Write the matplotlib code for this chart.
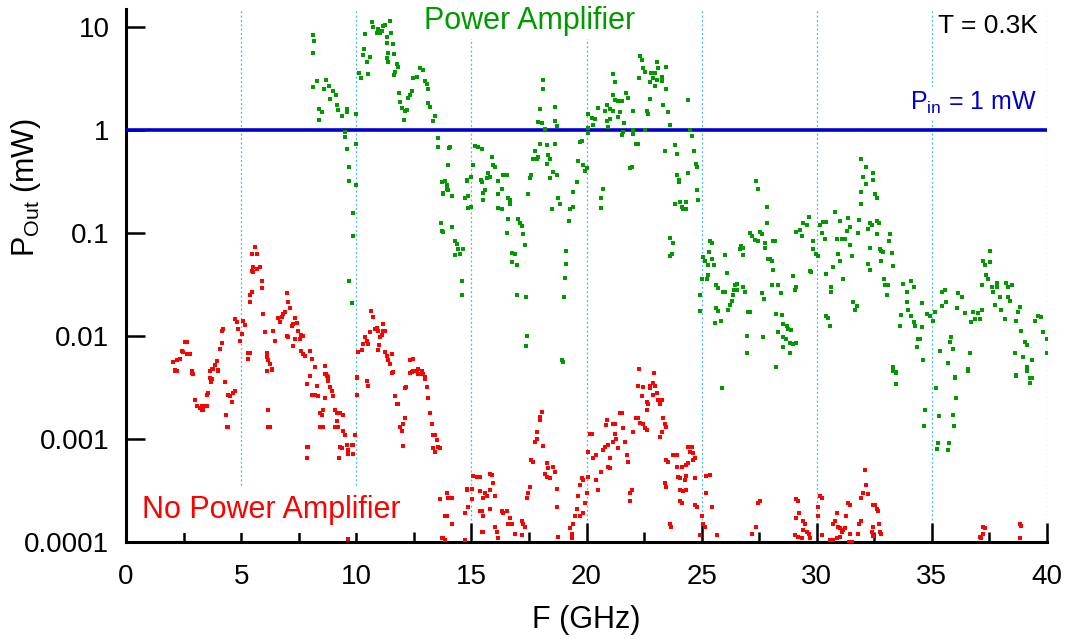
import matplotlib
matplotlib.use('Agg')
import matplotlib.pyplot as plt
from matplotlib.ticker import FixedLocator, MultipleLocator, NullLocator

plt.rcParams['font.family'] = ['Liberation Sans', 'DejaVu Sans']
plt.rcParams['mathtext.fontset'] = 'custom'
plt.rcParams['mathtext.rm'] = 'Liberation Sans'
plt.rcParams['mathtext.it'] = 'Liberation Sans:italic'

# output power with the amplifier (GHz, mW)
green_f = [
    8.12, 8.16, 8.12, 8.3, 8.1, 8.7, 8.6, 8.8, 9.0, 8.85, 9.1, 8.4, 8.5, 8.4,
    9.16, 9.2, 9.4, 9.6, 9.6, 10.0, 9.5, 9.5, 9.6, 10.0, 9.7, 9.7, 10.0,
    9.86, 9.84, 9.7, 9.8,
    10.13, 10.19, 10.28, 10.35, 10.39, 10.45, 10.6, 10.5, 10.7, 10.74, 10.88, 11.03,
    11.17, 11.25, 11.45, 11.32, 11.5, 11.32, 11.6, 11.39, 11.65, 11.32, 11.36, 11.75,
    11.82, 11.68, 11.63, 11.85, 11.9, 12.0, 12.1, 12.2, 12.07, 12.33, 12.43, 12.26,
    12.48, 12.62, 12.77, 12.91, 12.98, 13.08, 13.13, 13.13, 13.2, 13.4, 13.35,
    10.95, 11.1,
    13.56, 13.56, 14.04, 14.0, 13.71, 13.85, 13.92, 13.75, 13.7, 13.73,
    13.92, 14.0, 13.78, 14.14, 14.79, 14.72, 14.84, 14.86, 15.0, 14.14, 13.75, 14.28,
    14.36, 14.43, 14.28, 14.5, 14.65, 14.58, 14.58, 14.07, 14.79,
    15.08, 15.0, 15.15, 15.3, 15.44, 15.44, 15.59, 15.52, 15.88, 15.95, 16.02, 15.73,
    15.8, 15.66, 16.38, 16.53, 16.17, 16.31, 16.17, 16.6, 17.47, 17.54, 17.61, 17.76,
    17.83, 17.69, 17.9, 17.98, 18.27, 18.63, 18.33, 18.41, 18.27, 18.55, 18.7, 18.41,
    18.77, 17.98, 17.9, 18.05, 18.12, 18.12, 18.63, 18.63, 18.7, 18.2, 19.42, 19.57,
    19.64, 19.71, 19.79, 19.86, 19.93, 20.0,
    15.4, 15.49, 16.67, 16.67, 16.17, 16.31, 16.6, 17.04, 17.11, 17.18, 16.55, 17.25,
    17.33, 16.75, 16.89, 16.75, 16.96, 16.96, 17.35, 17.4, 17.35,
    18.48, 18.85, 19.42, 19.28, 19.42, 18.77, 19.24, 19.13, 19.13, 19.06, 19.03,
    18.95, 18.99,
    20.07, 20.07, 20.07, 20.22, 20.36, 20.29, 20.51, 20.8, 20.87, 21.02, 21.16, 20.87,
    20.94, 21.02, 21.16, 21.23, 21.38, 21.52, 21.71, 21.81, 21.16, 21.23, 21.38, 21.45,
    21.64, 21.56, 21.59, 22.03, 22.03, 22.14, 22.22, 22.03, 21.88, 21.98, 22.53, 22.61,
    22.68, 22.75, 22.32, 22.39, 22.46, 22.53, 22.29, 22.82, 22.97, 22.9, 23.04, 22.75,
    22.97, 23.11, 23.26, 23.3, 23.47, 23.08, 23.47, 23.33, 23.55, 23.62, 23.84, 23.94,
    23.4, 23.94, 24.02, 24.41, 24.49, 24.56, 24.41, 24.66, 24.75, 24.78, 24.8, 24.85,
    20.72, 20.65, 20.65, 24.02, 23.84, 24.06, 24.13, 24.34, 24.2, 24.32, 23.62, 23.76,
    23.62, 23.72,
    25.36, 25.43, 25.33, 25.07, 25.14, 25.26, 25.43, 25.53, 25.03, 25.28, 25.24, 24.92,
    24.95, 25.64, 25.72, 26.0, 26.09, 26.0, 25.93, 25.62, 25.72, 25.57, 25.83, 25.87,
    26.15, 26.23, 26.3, 26.37, 26.44, 26.52, 26.4, 26.54, 26.73, 26.8, 26.8, 26.66,
    27.1, 27.17, 27.31, 27.46, 27.53, 27.6, 27.74, 27.74, 27.82, 27.82, 27.89, 26.8,
    26.89, 27.02, 27.1, 26.95, 26.95, 27.65, 27.7, 27.63, 27.38, 27.46,
    28.1, 28.18, 27.96, 28.04, 28.1, 28.04, 28.32, 28.43, 28.98, 29.05, 29.12,
    28.25, 28.47, 28.54, 28.69, 28.76, 28.9, 28.32, 28.54, 28.66, 28.83, 28.98, 29.12,
    28.54, 28.83, 28.25,
    29.12, 29.27, 29.34, 29.41, 29.56, 29.67, 29.7, 29.77, 29.84, 29.84, 29.96,
    30.06, 30.13, 30.21, 30.28, 30.42, 30.35, 30.42, 30.64, 30.64, 30.71, 30.79, 30.86,
    31.0, 30.93, 31.0, 31.08, 31.15, 31.22, 31.32, 31.36, 31.44, 31.44, 31.55, 31.58,
    31.73, 31.65, 31.83, 31.8, 31.94, 31.94, 32.16, 32.52, 32.6, 32.31, 32.23, 32.38,
    32.6, 32.62, 32.71, 32.74, 32.81, 32.88, 32.77, 32.31, 32.23, 32.31, 32.91, 32.96,
    33.1, 33.03, 33.17, 33.13, 33.25, 33.29, 30.42, 30.57, 30.5, 33.32, 33.46,
    31.94, 32.13, 32.02, 32.16, 32.45, 32.45, 31.94,
    33.75, 33.9, 34.11, 34.21, 33.97, 34.11, 33.68, 33.6, 34.21, 34.26, 34.55, 34.55,
    34.4, 34.47, 34.36, 34.62, 33.9,
    34.77, 34.91, 35.05, 35.13, 35.42, 35.56, 35.46, 35.6, 35.85, 35.78, 35.92, 35.35,
    35.71, 36.14, 36.29, 36.11, 36.43, 36.79, 36.72, 36.86, 37.08, 37.16, 37.01, 36.65,
    36.57, 36.0, 37.16, 37.37, 37.44, 37.23, 37.3, 37.52, 37.52, 37.59, 37.66, 37.81,
    37.83, 37.95, 37.73, 38.02, 38.24, 38.31, 38.46, 38.31, 38.38, 38.17, 38.82, 38.74,
    38.67, 38.89, 39.04, 39.11, 38.6, 38.96, 39.11, 39.33, 39.47, 39.62, 39.76, 39.83,
    39.98, 39.98, 38.67, 39.25,
    33.32, 33.46, 33.46, 34.69, 34.66, 35.2, 35.31, 35.27, 35.23, 35.75, 35.71, 36.0,
    36.03, 35.92, 35.96, 36.57, 38.67, 39.11, 39.28, 39.33,
]
green_p = [
    8.3, 7.4, 5.6, 3.0, 2.6, 3.1, 2.5, 2.7, 2.4, 2.0, 2.2, 1.6, 1.5, 1.25,
    1.75, 1.56, 1.37, 1.6, 1.5, 1.43, 0.95, 0.86, 0.65, 0.74, 0.44, 0.32, 0.29,
    0.156, 0.093, 0.034, 0.021,
    3.6, 3.2, 5.4, 6.2, 8.6, 4.6, 5.1, 3.5, 11.2, 10.0, 8.8, 8.8,
    10.2, 10.4, 11.6, 8.0, 8.8, 7.0, 6.9, 5.6, 5.5, 5.0, 4.6, 4.4,
    4.1, 3.7, 3.4, 2.3, 1.87, 1.65, 1.53, 1.56, 1.24, 2.2, 2.4, 2.06,
    3.2, 3.3, 4.0, 3.8, 3.0, 2.8, 2.5, 1.84, 1.67, 1.37, 1.22,
    9.5, 9.2,
    0.83, 0.69, 0.67, 0.46, 0.31, 0.32, 0.27, 0.245, 0.124, 0.105,
    0.29, 0.26, 0.24, 0.23, 0.32, 0.22, 0.23, 0.175, 0.18, 0.115, 0.103, 0.084,
    0.078, 0.07, 0.061, 0.062, 0.07, 0.034, 0.025, 0.69, 0.33,
    0.46, 0.35, 0.70, 0.69, 0.65, 0.31, 0.26, 0.245, 0.55, 0.46, 0.44, 0.385,
    0.35, 0.34, 0.37, 0.37, 0.32, 0.27, 0.24, 0.22, 0.24, 0.34, 0.37, 0.63,
    0.53, 0.52, 0.55, 0.74, 0.71, 0.74, 0.57, 0.53, 0.47, 0.39, 0.37, 0.34,
    0.22, 1.59, 1.2, 1.18, 3.06, 2.5, 1.67, 1.22, 1.1, 1.02, 0.25, 0.31,
    0.5, 0.77, 0.78, 0.46, 0.40, 0.43,
    0.33, 0.21, 0.21, 0.19, 0.175, 0.17, 0.136, 0.136, 0.124, 0.118, 0.1, 0.098,
    0.076, 0.064, 0.062, 0.052, 0.049, 0.025, 0.024, 0.01, 0.008,
    0.17, 0.19, 0.18, 0.17, 0.25, 0.22, 0.13, 0.067, 0.05, 0.037, 0.024,
    0.0059, 0.0056,
    0.93, 1.05, 1.42, 1.32, 1.27, 1.13, 1.65, 1.53, 1.74, 1.59, 1.53, 1.22,
    1.07, 1.27, 2.17, 1.95, 1.91, 1.91, 2.27, 2.03, 3.47, 2.94, 1.35, 1.5,
    1.18, 0.89, 0.95, 0.92, 1.0, 0.74, 0.73, 1.53, 0.43, 0.44, 1.0, 1.53,
    1.42, 2.0, 5.2, 4.8, 4.0, 3.7, 3.2, 3.6, 3.6, 3.2, 3.1, 2.9,
    2.7, 4.0, 3.3, 3.0, 4.1, 4.6, 2.5, 1.77, 1.5, 1.12, 0.71, 0.58,
    0.62, 0.37, 0.31, 1.98, 1.0, 0.88, 0.38, 0.62, 0.47, 0.44, 0.26, 0.21,
    0.27, 0.22, 0.175, 0.33, 0.19, 0.2, 0.18, 0.2, 0.17, 0.17, 0.089, 0.081,
    0.06, 0.062,
    0.084, 0.081, 0.066, 0.058, 0.054, 0.049, 0.056, 0.049, 0.036, 0.039, 0.036, 0.025,
    0.0176, 0.031, 0.029, 0.061, 0.041, 0.027, 0.027, 0.0186, 0.0176, 0.0134, 0.0139, 0.0031,
    0.018, 0.02, 0.022, 0.025, 0.031, 0.032, 0.028, 0.028, 0.075, 0.071, 0.061, 0.07,
    0.1, 0.093, 0.086, 0.084, 0.103, 0.099, 0.081, 0.072, 0.178, 0.124, 0.056, 0.030,
    0.027, 0.017, 0.0172, 0.01, 0.0069, 0.0097, 0.023, 0.026, 0.32, 0.27,
    0.084, 0.083, 0.056, 0.054, 0.044, 0.031, 0.031, 0.026, 0.038, 0.028, 0.03,
    0.0163, 0.016, 0.013, 0.0124, 0.0117, 0.0115, 0.0109, 0.0099, 0.0094, 0.0085, 0.0083, 0.0085,
    0.0079, 0.0069, 0.005,
    0.103, 0.107, 0.094, 0.124, 0.12, 0.144, 0.043, 0.042, 0.084, 0.07, 0.062,
    0.06, 0.12, 0.1, 0.129, 0.129, 0.087, 0.04, 0.03, 0.027, 0.047, 0.16, 0.087,
    0.132, 0.062, 0.054, 0.087, 0.036, 0.087, 0.105, 0.139, 0.076, 0.115, 0.06, 0.0215,
    0.0197, 0.018, 0.134, 0.1, 0.25, 0.19, 0.3, 0.24, 0.22, 0.124, 0.11, 0.12,
    0.098, 0.13, 0.125, 0.07, 0.067, 0.065, 0.054, 0.072, 0.05, 0.044, 0.036, 0.031,
    0.031, 0.025, 0.098, 0.084, 0.064, 0.048, 0.0158, 0.0126, 0.015, 0.005, 0.0045,
    0.52, 0.44, 0.35, 0.3, 0.38, 0.33, 0.25,
    0.032, 0.027, 0.034, 0.03, 0.0179, 0.0158, 0.016, 0.0126, 0.0136, 0.0126, 0.021, 0.0122,
    0.0094, 0.0094, 0.0078, 0.0058, 0.0215,
    0.0163, 0.0158, 0.014, 0.0172, 0.027, 0.028, 0.0197, 0.0212, 0.0099, 0.0087, 0.0075, 0.0072,
    0.0055, 0.026, 0.0237, 0.0186, 0.0166, 0.017, 0.0138, 0.0146, 0.0146, 0.0179, 0.0167, 0.0069,
    0.0048, 0.004, 0.031, 0.039, 0.036, 0.054, 0.049, 0.052, 0.067, 0.03, 0.027, 0.033,
    0.03, 0.0237, 0.02, 0.018, 0.033, 0.03, 0.031, 0.0237, 0.022, 0.0146, 0.0192, 0.017,
    0.014, 0.0111, 0.0087, 0.0081, 0.0069, 0.0062, 0.005, 0.0058, 0.014, 0.0155, 0.0152, 0.0109,
    0.0094, 0.0069, 0.0042, 0.0039,
    0.0046, 0.0044, 0.0034, 0.0019, 0.00135, 0.0031, 0.00166, 0.00091, 0.0008, 0.00092, 0.00079, 0.0039,
    0.0025, 0.0017, 0.00133, 0.0046, 0.0041, 0.0046, 0.0035, 0.0039,
]

# output power without the amplifier (GHz, mW)
red_f = [
    2.05, 2.2, 2.34, 2.13, 2.23, 2.42, 2.49, 2.64, 2.78, 2.56, 2.64, 2.85, 2.92,
    3.65, 3.72, 3.86, 3.93, 4.0, 4.08, 4.16, 4.16, 4.23, 4.73, 4.81, 4.88, 4.95,
    5.02, 5.09, 5.17, 5.31, 5.28, 5.38,
    5.46, 5.6, 5.67, 5.53, 5.67, 5.81, 5.46, 5.53, 5.89, 5.89, 5.46, 5.38, 5.38,
    5.96, 6.04, 6.11, 6.11, 6.18, 6.25, 6.33,
    6.4, 6.47, 6.62, 6.69, 6.76, 6.83, 6.9, 6.98, 7.05, 7.12, 6.98, 7.05, 7.2, 7.26,
    7.41, 7.34, 7.48, 7.62, 7.56, 7.7, 7.26, 7.34, 7.62, 7.7, 7.77, 7.99, 8.06, 8.2,
    8.64, 8.68, 8.78,
    10.02, 10.09, 10.23, 10.3, 10.38, 10.52, 10.45, 10.59, 10.66, 10.74, 10.81, 10.88,
    10.95, 11.17, 11.1, 11.03, 11.17, 11.25, 11.0, 10.95, 11.25, 11.32, 11.39, 11.46,
    11.54, 11.58, 12.33, 12.48, 12.4, 12.55, 12.62, 12.77, 12.91, 12.7, 12.98,
    2.13, 2.85, 2.92, 3.65, 3.72, 3.69, 3.79, 4.0, 4.3, 3.57, 3.5, 3.0, 3.07, 3.21,
    3.28, 3.36, 3.43, 3.5, 3.28, 4.44, 4.51, 4.66, 4.73, 4.59, 4.34, 4.37, 4.44,
    6.11, 6.33, 6.15, 6.18, 6.25,
    7.85, 7.99, 8.06, 8.2, 8.28, 8.35, 8.42, 8.5, 8.57, 8.64, 8.71, 8.79, 8.86, 8.93,
    9.0, 8.64, 8.42, 8.57, 9.07, 9.15, 9.29, 9.44, 9.15, 9.07, 9.22, 9.41, 9.51, 9.29,
    9.36, 9.26, 9.58, 9.65, 9.8, 9.87, 9.94, 10.02, 10.02, 9.87, 9.65, 7.85, 7.92, 7.85,
    10.45, 10.52, 11.54, 11.68, 11.75, 11.82, 11.9, 11.97, 12.04, 12.11, 12.01, 12.11,
    12.18, 12.33, 12.48, 12.7, 12.84, 12.98, 13.05, 13.13, 13.2, 13.27, 13.35, 13.42,
    13.49, 13.56, 13.42, 13.35, 13.63, 13.85, 13.71, 13.85, 14.0, 9.65,
    13.63, 13.92, 14.0, 14.14, 13.85, 13.92, 14.14, 13.71, 13.78, 14.72, 14.79, 14.79,
    15.01, 15.01, 14.86, 14.72, 15.08, 15.23, 15.37, 15.37, 15.52, 15.66, 15.59, 15.8,
    15.88, 15.95, 16.02, 15.8, 15.37, 15.44, 15.52, 15.8, 15.44, 15.52, 16.02, 16.1,
    16.17, 16.31, 16.38, 16.53, 16.67, 16.6, 16.75, 16.89, 17.18, 17.25, 17.32, 17.18,
    17.4, 17.47, 17.54, 17.61, 17.69, 17.76, 17.83, 17.83, 17.98, 18.05, 17.98, 18.12,
    18.27, 18.33, 18.19, 18.27, 18.41, 18.55, 18.63, 18.7, 18.7, 18.77,
    19.28, 19.35, 19.42, 19.35, 19.5, 19.57, 19.64, 19.71, 19.79, 19.86, 19.71, 19.86,
    19.93, 20.0, 20.07, 20.07, 20.15, 20.22, 20.29, 20.43, 20.43, 20.51, 20.65, 20.72,
    20.8, 20.87, 20.84, 20.94, 21.01, 20.94, 21.01, 21.16, 21.23, 21.16, 21.23, 21.3,
    21.38, 21.45, 21.52, 21.59, 21.66, 21.74, 21.81, 21.88, 21.96, 21.88,
    22.03, 22.17, 22.24, 22.32, 22.46, 22.53, 22.61, 22.24, 22.39, 22.46, 22.61, 22.68,
    22.75, 22.9, 22.97, 22.75, 22.9, 23.04, 23.11, 23.26, 23.19, 22.29, 22.94, 22.61,
    23.33, 23.4, 23.47, 23.26, 23.19,
    23.47, 23.55, 23.76, 23.91, 24.13, 24.34, 24.41, 24.41, 24.56, 24.49, 24.63, 24.7,
    24.63, 23.91, 23.98, 24.06, 24.34, 24.27, 23.4, 23.47, 24.06, 24.2, 24.34, 24.7,
    24.06, 24.13, 24.7, 24.78, 23.62, 23.69,
    25.0, 25.06, 25.14, 24.92, 25.21, 25.36, 25.21, 25.43, 25.65, 27.17, 27.38, 27.46,
    27.53,
    29.12, 29.19, 29.23, 29.12, 29.41, 29.48, 29.41, 29.56, 29.67, 29.7, 29.05, 29.19,
    29.34, 30.06, 30.13, 30.21, 30.06, 30.21, 30.57, 30.71, 30.79, 30.86, 30.93, 31.0,
    31.08, 31.0, 31.15, 31.22, 31.29, 31.36, 31.44, 31.44, 31.51, 31.84, 31.94, 31.94,
    32.01, 32.09, 32.16, 32.23, 32.45, 32.52, 32.6, 32.67, 32.45, 32.38, 32.45, 32.69,
    32.74, 32.81, 31.8, 31.41, 30.86, 30.71,
    37.08, 37.15, 37.23, 37.3, 37.23, 38.82, 38.89, 38.82,
]
red_p = [
    0.0056, 0.0058, 0.006, 0.0047, 0.0046, 0.0072, 0.007, 0.0067, 0.0067, 0.0087, 0.0087, 0.0046, 0.0043,
    0.0039, 0.0048, 0.0052, 0.0057, 0.0047, 0.0075, 0.0085, 0.0113, 0.0117, 0.0146, 0.0136, 0.0117, 0.009,
    0.0104, 0.014, 0.0128, 0.0068, 0.006, 0.0069,
    0.062, 0.073, 0.062, 0.047, 0.045, 0.047, 0.043, 0.042, 0.034, 0.029, 0.027, 0.025, 0.0215,
    0.0163, 0.0109, 0.0069, 0.0062, 0.0058, 0.0053, 0.0047,
    0.0113, 0.009, 0.0149, 0.0136, 0.0152, 0.0163, 0.017, 0.026, 0.0215, 0.0186, 0.0101, 0.0097, 0.0126, 0.013,
    0.0133, 0.0149, 0.0113, 0.0103, 0.0094, 0.0101, 0.008, 0.0094, 0.0072, 0.0067, 0.0064, 0.0072, 0.006, 0.005,
    0.0051, 0.0043, 0.004,
    0.004, 0.007, 0.0073, 0.0083, 0.0097, 0.0083, 0.009, 0.011, 0.0176, 0.0152, 0.0117, 0.0121,
    0.0113, 0.013, 0.0102, 0.0097, 0.0113, 0.0113, 0.0082, 0.0074, 0.007, 0.0064, 0.0058, 0.0053,
    0.0067, 0.0045, 0.0058, 0.006, 0.0045, 0.0046, 0.0046, 0.0043, 0.0043, 0.0043, 0.004,
    0.0046, 0.0044, 0.0043, 0.0046, 0.0038, 0.0036, 0.0048, 0.0046, 0.0036, 0.0028, 0.0027, 0.0024, 0.0021, 0.002,
    0.0019, 0.0019, 0.0021, 0.0021, 0.0021, 0.0027, 0.0026, 0.0028, 0.0029, 0.0023, 0.0017, 0.0013, 0.0013,
    0.0046, 0.0048, 0.0019, 0.0013, 0.0013,
    0.0034, 0.0041, 0.0027, 0.0027, 0.0033, 0.0026, 0.0018, 0.0017, 0.0019, 0.0043, 0.0041, 0.0037, 0.0032, 0.0029,
    0.0026, 0.0025, 0.0013, 0.0013, 0.0019, 0.0018, 0.0018, 0.0017, 0.0015, 0.0013, 0.0013, 0.0012, 0.0011, 0.00083,
    0.00081, 0.00066, 0.00087, 0.00078, 0.00087, 0.00087, 0.0011, 0.0039, 0.0027, 0.00071, 0.00071, 0.00083, 0.00083, 0.00066,
    0.0037, 0.0033, 0.0044, 0.0026, 0.0022, 0.0022, 0.0013, 0.0012, 0.0014, 0.0016, 0.00085, 0.0031,
    0.0032, 0.0044, 0.0046, 0.0048, 0.0046, 0.0038, 0.0032, 0.0025, 0.0018, 0.0014, 0.0011, 0.0011,
    0.00098, 0.00084, 0.00075, 0.00081, 0.00026, 0.00018, 0.00011, 0.000105, 0.00027, 0.000106,
    0.00081, 0.0003, 0.00027, 0.00027, 0.00018, 0.00018, 0.00015, 0.00011, 0.000109, 0.000105, 0.00032, 0.00033,
    0.00033, 0.00026, 0.00022, 0.00019, 0.00044, 0.00043, 0.00043, 0.00031, 0.00027, 0.00028, 0.0003, 0.00046,
    0.00045, 0.00037, 0.00028, 0.00032, 0.0002, 0.0002, 0.00018, 0.00021, 0.000126, 0.000126, 0.00014, 0.000126,
    0.000109, 0.0002, 0.00019, 0.0002, 0.00017, 0.00015, 0.00015, 0.00012, 0.00016, 0.00015, 0.00014, 0.000117,
    0.00027, 0.0003, 0.00034, 0.00063, 0.0006, 0.00094, 0.001, 0.00118, 0.00153, 0.00184, 0.00164, 0.00085,
    0.00058, 0.00052, 0.00046, 0.00043, 0.00042, 0.00054, 0.00048, 0.00033, 0.00022, 0.000113,
    0.000136, 0.00012, 0.00015, 0.00011, 0.00018, 0.00021, 0.00028, 0.00036, 0.00042, 0.0004, 0.00018, 0.00019,
    0.00024, 0.0003, 0.00043, 0.00075, 0.00113, 0.00113, 0.00066, 0.0007, 0.0004, 0.00032, 0.00048, 0.00078,
    0.00084, 0.00153, 0.00137, 0.00087, 0.00065, 0.00054, 0.00052, 0.00094, 0.00113, 0.0014, 0.0014, 0.001,
    0.00081, 0.00178, 0.00178, 0.00128, 0.00094, 0.0007, 0.0006, 0.0003, 0.00032, 0.00025,
    0.00118, 0.0016, 0.0016, 0.00144, 0.0014, 0.00128, 0.00122, 0.0033, 0.0026, 0.0032, 0.0023, 0.0022,
    0.0033, 0.0035, 0.0033, 0.0031, 0.0027, 0.0028, 0.0024, 0.0024, 0.0022, 0.0048, 0.0044, 0.0019,
    0.0016, 0.0014, 0.0013, 0.00118, 0.00105,
    0.00063, 0.0006, 0.0007, 0.0007, 0.00054, 0.00056, 0.00058, 0.00084, 0.00084, 0.00075, 0.00073, 0.00065,
    0.00063, 0.00054, 0.00043, 0.00042, 0.00044, 0.0004, 0.00037, 0.00034, 0.00032, 0.00031, 0.00032, 0.00042,
    0.00025, 0.00024, 0.00023, 0.00022, 0.00015, 0.00014,
    0.00018, 0.00015, 0.00014, 0.000117, 0.00044, 0.00045, 0.0003, 0.00022, 0.000117, 0.00012, 0.00014, 0.00024,
    0.00025,
    0.00026, 0.00025, 0.00019, 0.00017, 0.00016, 0.00015, 0.00013, 0.000126, 0.00012, 0.000109, 0.000117, 0.000113,
    0.000109, 0.00022, 0.00028, 0.00027, 0.00018, 0.000117, 0.000105, 0.00015, 0.00016, 0.00019, 0.00014, 0.000136,
    0.000126, 0.000113, 0.00013, 0.000136, 0.00018, 0.00024, 0.00023, 0.00012, 0.0001, 0.00015, 0.00016, 0.00027,
    0.0003, 0.0005, 0.00036, 0.00029, 0.00023, 0.00023, 0.00021, 0.0002, 0.00014, 0.000126, 0.000114, 0.00015,
    0.000126, 0.00012, 0.00012, 0.0001, 0.000109, 0.000105,
    0.000113, 0.000109, 0.00014, 0.000136, 0.00012, 0.00015, 0.000144, 0.000109,
]

p_in = 1.0
x_ticks = [0, 5, 10, 15, 20, 25, 30, 35, 40]
y_ticks = [1e-4, 1e-3, 1e-2, 1e-1, 1, 10]
y_tick_labels = ['0.0001', '0.001', '0.01', '0.1', '1', '10']

fig = plt.figure(figsize=(10.7, 6.39), dpi=100)
ax = fig.add_axes([0.1178, 0.1518, 0.8607, 0.8341])
ax.set_yscale('log')
ax.set_xlim(0, 40)
ax.set_ylim(1e-4, 15)

ax.axhline(p_in, color='#0000cc', lw=2.6, zorder=3)
ax.plot(green_f, green_p, 's', color='#009900', ms=2.8, mew=0, zorder=4)
ax.plot(red_f, red_p, 's', color='#ff0000', ms=2.8, mew=0, zorder=4)

# axes look
for side in ['top', 'right']:
    ax.spines[side].set_visible(False)
for side in ['left', 'bottom']:
    ax.spines[side].set_linewidth(2.2)

ax.xaxis.set_major_locator(FixedLocator(x_ticks))
ax.xaxis.set_minor_locator(MultipleLocator(2.5))
ax.yaxis.set_major_locator(FixedLocator(y_ticks))
ax.yaxis.set_minor_locator(NullLocator())
ax.set_yticklabels(y_tick_labels)
ax.tick_params(axis='x', which='major', direction='in', length=14, width=1.8, pad=16, labelsize=20)
ax.tick_params(axis='x', which='minor', direction='in', length=7, width=1.8)
ax.tick_params(axis='y', which='major', direction='in', length=14, width=1.8, pad=12, labelsize=20)

ax.set_axisbelow(True)
ax.xaxis.grid(True, which='major', color='#40b8f0', ls=(0, (1.5, 2)), lw=0.9)

ax.set_xlabel('F (GHz)', fontsize=22, labelpad=11)
ax.set_ylabel(r'P$_{\mathrm{Out}}$ (mW)', fontsize=22)
ax.yaxis.set_label_coords(-0.090, 0.666)

box = dict(facecolor='white', edgecolor='none', pad=2)
ax.text(0.4387, 0.9625, 'Power Amplifier', color='#009900', fontsize=22,
        ha='center', va='baseline', transform=ax.transAxes, bbox=box, zorder=1)
ax.text(0.0174, 0.045, 'No Power Amplifier', color='#ff0000', fontsize=22,
        ha='left', va='baseline', transform=ax.transAxes,
        bbox=dict(facecolor='white', edgecolor='none', pad=6), zorder=1)
ax.text(0.990, 0.955, 'T = 0.3K', color='black', fontsize=19,
        ha='right', va='baseline', transform=ax.transAxes)
ax.text(0.989, 0.8105, r'P$_{\mathrm{in}}$ = 1 mW', color='#0000cc', fontsize=18,
        ha='right', va='baseline', transform=ax.transAxes, bbox=box, zorder=1)

fig.savefig('out.png', dpi=100)
